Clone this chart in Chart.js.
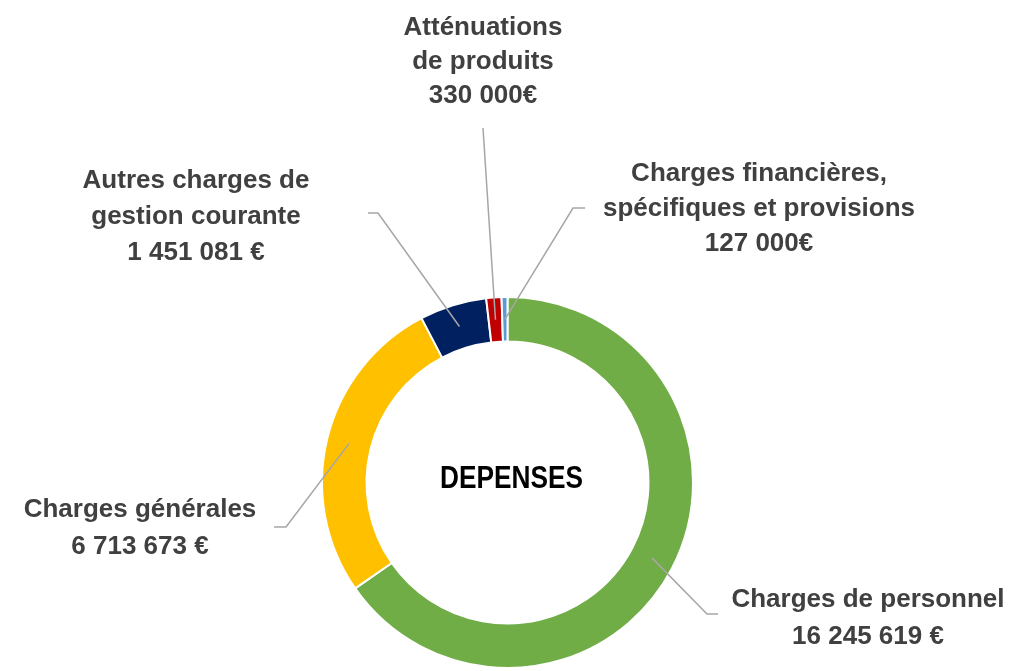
<!DOCTYPE html>
<html lang="fr">
<head>
    <meta charset="UTF-8">
    <title>Dépenses</title>
    <script src="https://cdn.jsdelivr.net/npm/chart.js@4.4.1/dist/chart.umd.min.js"></script>
    <style>
        * { margin: 0; padding: 0; box-sizing: border-box; }
        html, body { width: 1035px; height: 671px; background: #fff; overflow: hidden; }
        .wrap { position: relative; width: 1035px; height: 671px; }
    </style>
</head>
<body>
    <div class="wrap">
        <canvas id="depensesChart" width="1035" height="671"></canvas>
    </div>

    <script>
        const categories = [
            ['Charges de personnel'],
            ['Charges générales'],
            ['Autres charges de', 'gestion courante'],
            ['Atténuations', 'de produits'],
            ['Charges financières,', 'spécifiques et provisions']
        ];
        const values = [16245619, 6713673, 1451081, 330000, 127000];
        const valueLabels = ['16 245 619 €', '6 713 673 €', '1 451 081 €', '330 000€', '127 000€'];
        const colors = ['#70AD47', '#FFC000', '#002060', '#C00000', '#5B9BD5'];

        // where each label sits and how its leader line bends
        const labelLayout = [
            { x: 868, y: 607, lh: 37, elbow: [707, 614], end: [718, 614] },
            { x: 140, y: 517, lh: 37, elbow: [286, 527], end: [274, 527] },
            { x: 196, y: 188, lh: 36, elbow: [378, 213], end: [368, 213] },
            { x: 483, y: 35, lh: 34, elbow: [483, 128], end: null },
            { x: 759, y: 181, lh: 35, elbow: [573, 208], end: [585, 208] }
        ];

        const labelFont = 'bold 26px "Liberation Sans", Arial, sans-serif';

        const calloutPlugin = {
            id: 'callouts',
            afterDatasetsDraw(chart) {
                const ctx = chart.ctx;
                const meta = chart.getDatasetMeta(0);
                ctx.save();
                meta.data.forEach((arc, i) => {
                    const p = arc.tooltipPosition();
                    const lay = labelLayout[i];
                    ctx.strokeStyle = '#A6A6A6';
                    ctx.lineWidth = 1.5;
                    ctx.beginPath();
                    ctx.moveTo(p.x, p.y);
                    ctx.lineTo(lay.elbow[0], lay.elbow[1]);
                    if (lay.end) ctx.lineTo(lay.end[0], lay.end[1]);
                    ctx.stroke();

                    const lines = categories[i].concat([valueLabels[i]]);
                    ctx.fillStyle = '#404040';
                    ctx.font = labelFont;
                    ctx.textAlign = 'center';
                    ctx.textBaseline = 'alphabetic';
                    lines.forEach((t, k) => ctx.fillText(t, lay.x, lay.y + k * lay.lh));
                });

                // centre title, squeezed to look like a narrow face
                const c = meta.data[0];
                ctx.translate(c.x + 4, c.y + 5.5);
                ctx.scale(0.82, 1);
                ctx.fillStyle = '#000';
                ctx.font = 'bold 32px "Liberation Sans", Arial, sans-serif';
                ctx.textAlign = 'center';
                ctx.fillText('DEPENSES', 0, 0);
                ctx.restore();
            }
        };

        new Chart(document.getElementById('depensesChart'), {
            type: 'doughnut',
            data: {
                labels: categories.map(c => c.join(' ')),
                datasets: [{
                    data: values,
                    backgroundColor: colors,
                    borderColor: '#ffffff',
                    borderWidth: 2
                }]
            },
            options: {
                responsive: false,
                animation: false,
                cutout: '76%',
                rotation: 0,
                layout: { padding: { top: 296, bottom: 2, left: 0, right: 20 } },
                plugins: {
                    legend: { display: false },
                    tooltip: { enabled: false }
                }
            },
            plugins: [calloutPlugin]
        });
    </script>
</body>
</html>
